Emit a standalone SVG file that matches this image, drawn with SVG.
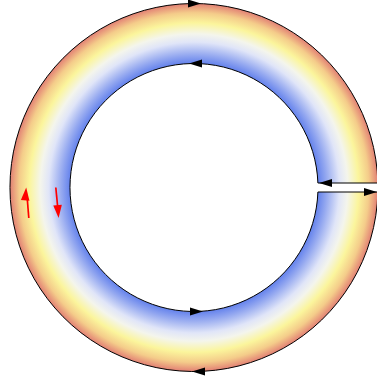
<svg xmlns="http://www.w3.org/2000/svg" xmlns:xlink="http://www.w3.org/1999/xlink" width="377" height="383" viewBox="0 0 377 383">
  <style>
    .edge { fill: none; stroke: #000; stroke-width: 1; }
    .head { fill: #000; }
    .red { stroke: #ff0000; stroke-width: 1.7; fill: none; }
    .redhead { fill: #ff0000; }
  </style>
  <defs>
    <radialGradient id="ring" gradientUnits="userSpaceOnUse" cx="194" cy="187.5" r="184">
      <stop offset="0.674" stop-color="#6482ec"/>
      <stop offset="0.72" stop-color="#94a8f0"/>
      <stop offset="0.79" stop-color="#e0e5f8"/>
      <stop offset="0.835" stop-color="#f4f5ec"/>
      <stop offset="0.895" stop-color="#fbf59c"/>
      <stop offset="0.95" stop-color="#f4cc8a"/>
      <stop offset="1" stop-color="#e28074"/>
    </radialGradient>
    <path id="ah" d="M0,0 L-13,-4 L-13,4 Z"/>
    <path id="rh" d="M0,0 L-13,-4.3 L-13,4.3 Z"/>
  </defs>
  <rect width="377" height="383" fill="#ffffff"/>
  <g id="ring-body">
    <path d="M377.9,183 L317.9,183 A124,124 0 1 0 317.9,192 L377.9,192 A184,184 0 1 1 377.9,183 Z" fill="url(#ring)" stroke="none"/>
  </g>
  <g id="connectors">
    <path class="edge" d="M377.9,183 L317.9,183 A124,124 0 1 0 317.9,192 L377.9,192 A184,184 0 1 1 377.9,183 Z"/>
    <use href="#ah" class="head" transform="translate(201,3.5)"/>
    <use href="#ah" class="head" transform="translate(189,63.5) rotate(180)"/>
    <use href="#ah" class="head" transform="translate(203,311.5)"/>
    <use href="#ah" class="head" transform="translate(192,371.5) rotate(180)"/>
    <use href="#ah" class="head" transform="translate(319,183) rotate(180)"/>
    <use href="#ah" class="head" transform="translate(377,192)"/>
  </g>
  <g id="red-arrows">
    <line class="red" x1="28.8" y1="218" x2="27.2" y2="198"/>
    <use href="#rh" class="redhead" transform="translate(26.2,187.5) rotate(-85.4)"/>
    <line class="red" x1="55.8" y1="187.5" x2="57.6" y2="206"/>
    <use href="#rh" class="redhead" transform="translate(58.6,218) rotate(85.4)"/>
  </g>
</svg>
